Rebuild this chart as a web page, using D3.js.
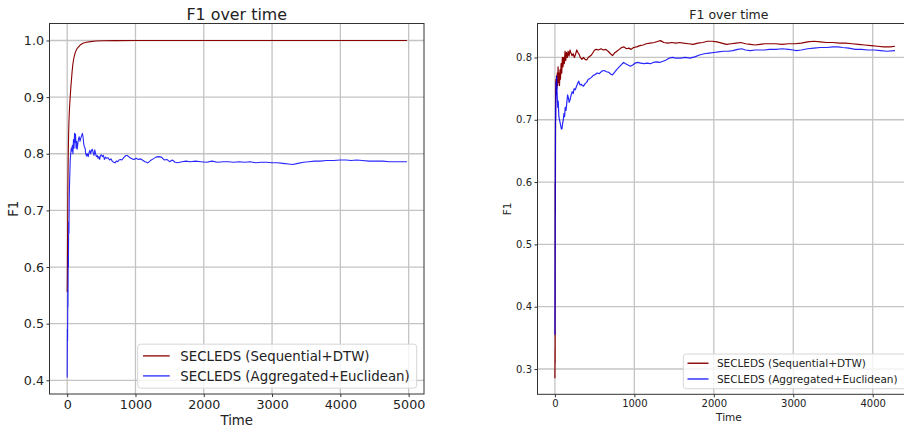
<!DOCTYPE html>
<html>
<head>
<meta charset="utf-8">
<script src="https://cdn.jsdelivr.net/npm/d3@7"></script>
<style>
  body { margin: 0; background: #fff; }
  svg { display: block; font-family: "DejaVu Sans", sans-serif; }
</style>
</head>
<body>
<svg id="chart" width="904" height="430"></svg>
<script>
// series names
const seriesNames = ["SECLEDS (Sequential+DTW)", "SECLEDS (Aggregated+Euclidean)"];
const seriesColors = ["#8b0000", "#0000ff"];

// left panel, [time, F1]
const leftSeq = [[0,0.556],[3,0.6],[6,0.66],[9,0.72],[12,0.76],[16,0.8],[20,0.83],[25,0.855],[30,0.87],[36,0.885],[44,0.9],[52,0.915],[62,0.93],[72,0.945],[82,0.957],[93,0.966],[105,0.973],[120,0.979],[140,0.985],[160,0.988],[190,0.992],[230,0.995],[280,0.997],[340,0.998],[420,0.999],[520,0.9995],[700,0.9998],[1000,1.0],[2000,1.0],[3000,1.0],[4000,1.0],[4975,1.0]];
const leftAgg = [[0,0.405],[3,0.49],[6,0.47],[9,0.56],[12,0.53],[15,0.62],[18,0.6],[22,0.68],[26,0.66],[30,0.72],[35,0.75],[40,0.77],[45,0.79],[52,0.8],[60,0.81],[68,0.805],[76,0.815],[84,0.8],[92,0.825],[100,0.81],[108,0.836],[116,0.82],[122,0.835],[130,0.81],[138,0.822],[146,0.808],[156,0.818],[166,0.826],[176,0.83],[188,0.822],[200,0.828],[212,0.832],[222,0.836],[232,0.83],[242,0.818],[252,0.812],[262,0.81],[272,0.8],[284,0.796],[296,0.8],[308,0.795],[320,0.802],[332,0.806],[344,0.8],[356,0.806],[368,0.808],[380,0.802],[392,0.797],[404,0.807],[416,0.8],[428,0.795],[440,0.797],[452,0.792],[464,0.795],[476,0.79],[488,0.797],[500,0.798],[515,0.795],[530,0.797],[545,0.79],[560,0.794],[580,0.792],[600,0.793],[620,0.789],[640,0.791],[660,0.787],[680,0.785],[700,0.784],[720,0.787],[740,0.786],[760,0.789],[780,0.79],[800,0.789],[820,0.792],[840,0.795],[860,0.797],[880,0.797],[900,0.795],[920,0.793],[950,0.791],[980,0.79],[1010,0.792],[1040,0.79],[1070,0.791],[1100,0.789],[1140,0.786],[1180,0.784],[1220,0.788],[1260,0.791],[1300,0.794],[1340,0.795],[1380,0.794],[1420,0.789],[1460,0.79],[1500,0.786],[1540,0.789],[1580,0.785],[1620,0.784],[1680,0.786],[1740,0.787],[1800,0.786],[1880,0.787],[1960,0.786],[2040,0.785],[2120,0.787],[2200,0.785],[2280,0.786],[2360,0.786],[2440,0.785],[2520,0.786],[2600,0.785],[2680,0.786],[2760,0.784],[2840,0.785],[2920,0.785],[3000,0.784],[3080,0.784],[3160,0.783],[3240,0.782],[3300,0.781],[3380,0.783],[3460,0.785],[3540,0.786],[3620,0.787],[3700,0.787],[3800,0.788],[3900,0.788],[4000,0.789],[4080,0.789],[4160,0.788],[4240,0.789],[4320,0.788],[4420,0.787],[4520,0.787],[4620,0.787],[4720,0.786],[4820,0.786],[4900,0.786],[4975,0.786]];

// right panel, [time, F1]
const rightSeq = [[0,0.285],[2,0.333],[3,0.31],[4,0.6],[6,0.55],[9,0.74],[12,0.765],[16,0.74],[20,0.77],[25,0.75],[30,0.775],[35,0.755],[40,0.785],[46,0.76],[52,0.775],[58,0.755],[64,0.78],[70,0.765],[78,0.79],[86,0.775],[94,0.8],[102,0.785],[110,0.8],[118,0.79],[128,0.81],[136,0.795],[146,0.808],[156,0.8],[166,0.81],[178,0.802],[190,0.812],[200,0.808],[215,0.803],[230,0.806],[245,0.8],[260,0.805],[275,0.812],[290,0.808],[305,0.805],[320,0.8],[340,0.797],[360,0.8],[380,0.797],[400,0.796],[420,0.8],[440,0.802],[460,0.804],[480,0.808],[500,0.812],[520,0.813],[550,0.812],[580,0.814],[610,0.812],[640,0.813],[670,0.81],[700,0.806],[725,0.803],[750,0.807],[780,0.81],[810,0.813],[840,0.816],[870,0.817],[900,0.814],[930,0.815],[960,0.813],[990,0.816],[1030,0.817],[1070,0.819],[1110,0.82],[1150,0.822],[1200,0.823],[1250,0.824],[1300,0.826],[1330,0.827],[1370,0.824],[1420,0.823],[1470,0.824],[1520,0.823],[1570,0.824],[1620,0.823],[1680,0.822],[1740,0.821],[1800,0.823],[1860,0.824],[1920,0.826],[1980,0.826],[2040,0.825],[2100,0.823],[2160,0.821],[2220,0.822],[2280,0.823],[2340,0.824],[2400,0.822],[2460,0.821],[2520,0.82],[2580,0.821],[2640,0.822],[2700,0.822],[2780,0.822],[2860,0.821],[2940,0.822],[3020,0.822],[3100,0.823],[3180,0.825],[3260,0.826],[3340,0.825],[3420,0.824],[3500,0.824],[3580,0.823],[3660,0.823],[3740,0.822],[3820,0.821],[3900,0.82],[3980,0.819],[4060,0.818],[4140,0.817],[4220,0.817],[4280,0.818]];
const rightAgg = [[0,0.355],[2,0.45],[4,0.55],[6,0.65],[8,0.72],[10,0.7],[14,0.76],[18,0.74],[22,0.77],[26,0.75],[30,0.735],[36,0.72],[42,0.73],[50,0.705],[58,0.7],[66,0.695],[74,0.69],[82,0.685],[90,0.686],[98,0.695],[106,0.7],[114,0.71],[122,0.705],[130,0.72],[140,0.715],[150,0.728],[160,0.74],[170,0.735],[180,0.728],[192,0.733],[205,0.74],[218,0.745],[230,0.742],[242,0.75],[256,0.748],[270,0.753],[285,0.758],[300,0.762],[315,0.756],[330,0.757],[345,0.755],[360,0.754],[380,0.758],[400,0.76],[420,0.765],[440,0.766],[460,0.768],[480,0.771],[500,0.772],[530,0.775],[560,0.774],[590,0.778],[620,0.779],[650,0.777],[680,0.776],[705,0.773],[725,0.772],[750,0.776],[780,0.781],[810,0.785],[840,0.789],[865,0.792],[890,0.79],[920,0.788],[950,0.786],[980,0.788],[1010,0.791],[1040,0.792],[1080,0.791],[1120,0.79],[1160,0.791],[1200,0.79],[1240,0.792],[1280,0.793],[1320,0.792],[1360,0.794],[1400,0.796],[1440,0.799],[1480,0.8],[1520,0.799],[1580,0.799],[1640,0.8],[1700,0.799],[1760,0.801],[1820,0.804],[1880,0.806],[1940,0.807],[2000,0.808],[2060,0.809],[2120,0.81],[2180,0.81],[2240,0.811],[2300,0.813],[2350,0.814],[2400,0.812],[2460,0.811],[2520,0.812],[2580,0.812],[2640,0.812],[2700,0.813],[2780,0.813],[2860,0.814],[2940,0.813],[3000,0.812],[3040,0.811],[3100,0.812],[3180,0.814],[3260,0.815],[3340,0.816],[3420,0.816],[3500,0.817],[3560,0.817],[3620,0.816],[3700,0.815],[3780,0.813],[3860,0.813],[3940,0.812],[4020,0.812],[4100,0.811],[4180,0.81],[4280,0.811]];

// tick values
const leftXTicks = [0, 1000, 2000, 3000, 4000, 5000];
const leftYTicks = [0.4, 0.5, 0.6, 0.7, 0.8, 0.9, 1.0];
const rightXTicks = [0, 1000, 2000, 3000, 4000];
const rightYTicks = [0.3, 0.4, 0.5, 0.6, 0.7, 0.8];

const svg = d3.select("#chart");

function drawPanel(p) {
  const g = svg.append("g");
  const x = d3.scaleLinear().domain(p.xDomain).range([p.left, p.right]);
  const y = d3.scaleLinear().domain(p.yDomain).range([p.bottom, p.top]);
  const fs = p.font;

  const clipId = "clip" + p.id;
  svg.append("clipPath").attr("id", clipId)
    .append("rect").attr("x", p.left).attr("y", p.top)
    .attr("width", p.right - p.left).attr("height", p.bottom - p.top);

  // grid
  g.append("g").selectAll("line").data(p.xTicks).join("line")
    .attr("x1", d => x(d)).attr("x2", d => x(d))
    .attr("y1", p.top).attr("y2", p.bottom)
    .attr("stroke", "#c4c4c4").attr("stroke-width", 1.3);
  g.append("g").selectAll("line").data(p.yTicks).join("line")
    .attr("x1", p.left).attr("x2", p.right)
    .attr("y1", d => y(d)).attr("y2", d => y(d))
    .attr("stroke", "#c4c4c4").attr("stroke-width", 1.3);

  // lines
  const line = d3.line().x(d => x(d[0])).y(d => y(d[1]));
  const lines = g.append("g").attr("clip-path", `url(#${clipId})`);
  p.series.forEach((s, i) => {
    lines.append("path").datum(s)
      .attr("fill", "none")
      .attr("stroke", seriesColors[i])
      .attr("stroke-opacity", i === 1 ? 0.85 : 1)
      .attr("stroke-width", p.lw)
      .attr("stroke-linejoin", "round")
      .attr("d", line);
  });

  // axes
  const xAxis = d3.axisBottom(x).tickValues(p.xTicks).tickFormat(d3.format("d"))
    .tickSize(p.tick).tickPadding(p.pad);
  const yAxis = d3.axisLeft(y).tickValues(p.yTicks).tickFormat(d3.format(".1f"))
    .tickSize(p.tick).tickPadding(p.pad);
  const xg = g.append("g").attr("transform", `translate(0,${p.bottom})`).call(xAxis);
  const yg = g.append("g").attr("transform", `translate(${p.left},0)`).call(yAxis);
  [xg, yg].forEach(a => {
    a.select(".domain").remove();
    a.selectAll(".tick line").attr("stroke", "#333");
    a.selectAll(".tick text").attr("fill", "#222").style("font-size", fs + "px")
      .style("font-family", "'DejaVu Sans', sans-serif");
  });

  // frame
  g.append("rect").attr("x", p.left).attr("y", p.top)
    .attr("width", p.right - p.left).attr("height", p.bottom - p.top)
    .attr("fill", "none").attr("stroke", "#333").attr("stroke-width", 1);

  // title and labels
  g.append("text").attr("x", (p.left + p.right) / 2).attr("y", p.titleY)
    .attr("text-anchor", "middle").attr("fill", "#222")
    .style("font-size", (fs * 1.25) + "px").text("F1 over time");
  g.append("text").attr("x", (p.left + p.right) / 2).attr("y", p.xLabelY)
    .attr("text-anchor", "middle").attr("fill", "#222")
    .style("font-size", (fs * 1.05) + "px").text("Time");
  g.append("text")
    .attr("transform", `translate(${p.yLabelX},${(p.top + p.bottom) / 2}) rotate(-90)`)
    .attr("text-anchor", "middle").attr("fill", "#222")
    .style("font-size", (fs * 1.05) + "px").text("F1");

  // legend
  const lf = fs * 1.05;
  const lg = g.append("g");
  lg.append("rect")
    .attr("x", p.right - p.legW - p.legInset).attr("y", p.bottom - p.legH - p.legInset * 0.8)
    .attr("width", p.legW).attr("height", p.legH).attr("rx", 3)
    .attr("fill", "#fff").attr("fill-opacity", 0.8)
    .attr("stroke", "#d6d6d6").attr("stroke-width", 1);
  const lx = p.right - p.legW - p.legInset;
  const ly = p.bottom - p.legH - p.legInset * 0.8;
  seriesNames.forEach((name, i) => {
    const cy = ly + lf * 0.88 + i * lf * 1.5;
    lg.append("line")
      .attr("x1", lx + lf * 0.4).attr("x2", lx + lf * 2.4)
      .attr("y1", cy).attr("y2", cy)
      .attr("stroke", seriesColors[i]).attr("stroke-opacity", i === 1 ? 0.85 : 1)
      .attr("stroke-width", p.lw + 0.2);
    lg.append("text").attr("x", lx + lf * 3.2).attr("y", cy)
      .attr("dy", "0.35em").attr("fill", "#222")
      .style("font-size", lf + "px").text(name);
  });
}

drawPanel({
  id: "L", left: 49.5, right: 424, top: 23.5, bottom: 394,
  xDomain: [-259, 5225], yDomain: [0.3758, 1.0300],
  xTicks: leftXTicks, yTicks: leftYTicks, series: [leftSeq, leftAgg],
  font: 12.7, lw: 1.1, tick: 3, pad: 2.5,
  titleY: 19.5, xLabelY: 425, yLabelX: 18,
  legW: 279, legH: 44, legInset: 7.3
});

drawPanel({
  id: "R", left: 537.5, right: 920.3, top: 23.5, bottom: 394.3,
  xDomain: [-219, 4599], yDomain: [0.2594, 0.8545],
  xTicks: rightXTicks, yTicks: rightYTicks, series: [rightSeq, rightAgg],
  font: 10, lw: 1.2, tick: 3, pad: 2.5,
  titleY: 19, xLabelY: 420.5, yLabelX: 510.5,
  legW: 230, legH: 34.7, legInset: 7
});
</script>
</body>
</html>
